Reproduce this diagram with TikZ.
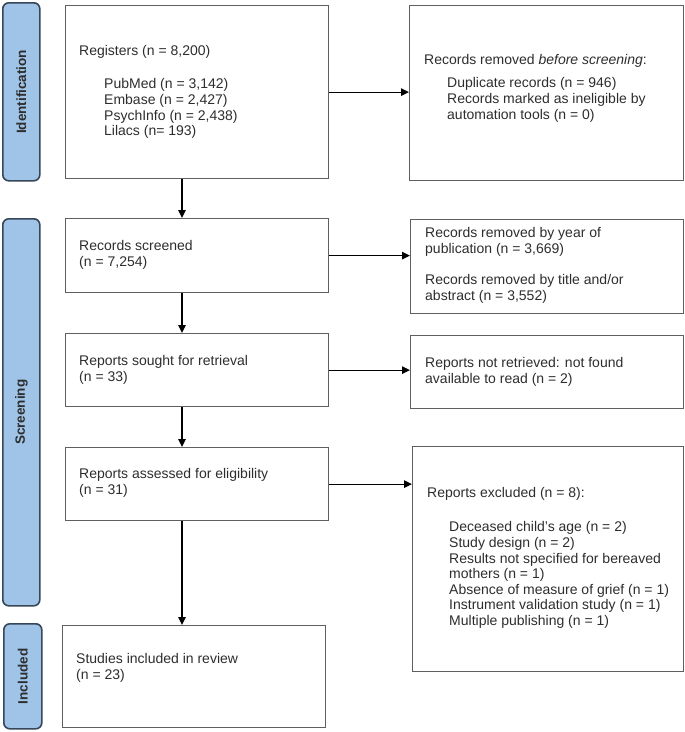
\documentclass[tikz,border=0pt]{standalone}
\usepackage{fontspec}
\setmainfont{Liberation Sans}
\usetikzlibrary{arrows.meta,calc}
\definecolor{barfill}{RGB}{160,196,232}
\definecolor{barline}{RGB}{55,70,88}
\definecolor{boxline}{RGB}{95,95,95}
\definecolor{txt}{RGB}{45,45,45}
\begin{document}
\begin{tikzpicture}[x=1pt,y=-1pt,
  bar/.style={draw=barline, line width=1.6pt, fill=barfill, rounded corners=6pt, anchor=north west, inner sep=0pt,
    font=\bfseries\fontsize{13.5}{15}\selectfont, text=txt},
  box/.style={draw=boxline, line width=1.3pt, anchor=north west, inner sep=0pt},
  tx/.style={anchor=north west, inner sep=0pt, align=left, text=txt, font=\fontsize{14}{15.6}\selectfont},
  arr/.style={draw=black, line width=1.3pt, -{Triangle[length=8pt,width=7.5pt]}}]
\useasboundingbox (0,0) rectangle (685,732);
% phase bars
\node[bar, minimum width=37pt, minimum height=178pt] (pid) at (2,2) {\rotatebox{90}{Identification}};
\node[bar, minimum width=37pt, minimum height=387pt] (psc) at (2,218) {\rotatebox{90}{Screening}};
\node[bar, minimum width=38pt, minimum height=105pt] (pin) at (3,623) {\rotatebox{90}{Included}};
% left boxes
\node[box, minimum width=263pt, minimum height=173pt] (b1) at (65,5) {};
\node[box, minimum width=263pt, minimum height=74pt] (b2) at (65,218) {};
\node[box, minimum width=263pt, minimum height=73pt] (b3) at (65,333) {};
\node[box, minimum width=263pt, minimum height=73pt] (b4) at (65,447) {};
\node[box, minimum width=263pt, minimum height=102pt] (b5) at (62,625) {};
% right boxes
\node[box, minimum width=274pt, minimum height=175pt] (r1) at (409,5) {};
\node[box, minimum width=273pt, minimum height=94pt] (r2) at (410,219) {};
\node[box, minimum width=273pt, minimum height=73pt] (r3) at (410,335) {};
\node[box, minimum width=271pt, minimum height=225pt] (r4) at (412,446) {};
% texts
\node[tx] (t1) at (79,45.5) {Registers (n = 8,200)};
\node[tx] (t1s) at (104,78.5) {PubMed (n = 3,142)\\Embase (n = 2,427)\\PsychInfo (n = 2,438)\\Lilacs (n= 193)};
\node[tx] (r1t) at (424,54.5) {Records removed \textit{before screening}:};
\node[tx] (r1s) at (447,77.5) {Duplicate records (n = 946)\\Records marked as ineligible by\\automation tools (n = 0)};
\node[tx] (t2) at (79,240.5) {Records screened\\(n = 7,254)};
\node[tx] (t3) at (79,355.5) {Reports sought for retrieval\\(n = 33)};
\node[tx] (t4) at (79,468.5) {Reports assessed for eligibility\\(n = 31)};
\node[tx] (t5) at (76,653.5) {Studies included in review\\(n = 23)};
\node[tx] (r2t) at (425,227.5) {Records removed by year of\\publication (n = 3,669)\\[15.5pt]Records removed by title and/or\\abstract (n = 3,552)};
\node[tx] (r3t) at (425,357.5) {Reports not retrieved: not found\\available to read (n = 2)};
\node[tx] (r4t) at (427,487.5) {Reports excluded (n = 8):};
\node[tx] (r4s) at (449,521.5) {Deceased child's age (n = 2)\\Study design (n = 2)\\Results not specified for bereaved\\mothers (n = 1)\\Absence of measure of grief (n = 1)\\Instrument validation study (n = 1)\\Multiple publishing (n = 1)};
% connectors
\coordinate (ax) at (182,0);
\draw[arr] (b1.south -| ax) -- (b2.north -| ax);
\draw[arr] (b2.south -| ax) -- (b3.north -| ax);
\draw[arr] (b3.south -| ax) -- (b4.north -| ax);
\draw[arr] (b4.south -| ax) -- (b5.north -| ax);
\draw[arr] (b1.east) -- (b1.east -| r1.west);
\draw[arr] (b2.east) -- (b2.east -| r2.west);
\draw[arr] (b3.east) -- (b3.east -| r3.west);
\draw[arr] (b4.east) -- (b4.east -| r4.west);
\end{tikzpicture}
\end{document}
